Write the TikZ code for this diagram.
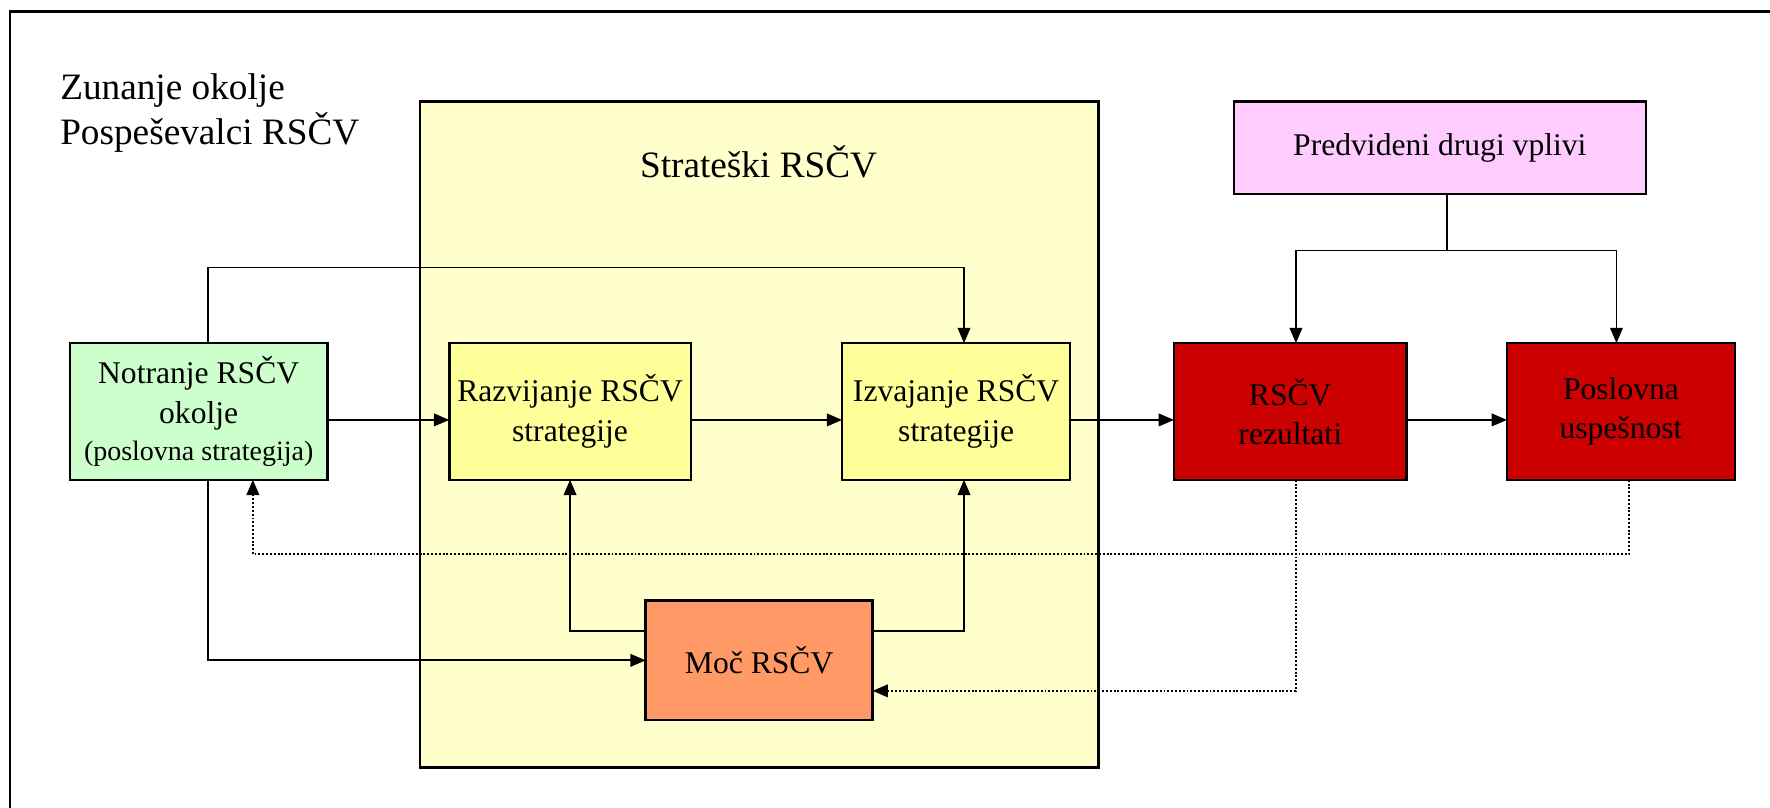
\documentclass[tikz,border=0pt]{standalone}
\usepackage{fontspec}
\setmainfont{Liberation Serif}
\usetikzlibrary{arrows.meta}
\definecolor{envgreen}{HTML}{CCFFCC}
\definecolor{stratbg}{HTML}{FFFFCC}
\definecolor{stepyellow}{HTML}{FFFF99}
\definecolor{otherpink}{HTML}{FFCCFF}
\definecolor{resultred}{HTML}{CC0000}
\definecolor{powerorange}{HTML}{FF9966}
\begin{document}
\begin{tikzpicture}[x=0.5pt,y=-0.5pt,
  box/.style={draw, line width=1.1pt, inner sep=0pt, outer sep=0pt, align=center,
    font=\fontsize{14}{17.5}\selectfont},
  conn/.style={line width=0.8pt, -{Triangle[length=6.8pt,width=5.6pt]}},
  plain/.style={line width=0.8pt},
  fb/.style={line width=0.85pt, dash pattern=on 0.85pt off 0.85pt,
    -{Triangle[length=6.8pt,width=5.6pt]}},
  biglabel/.style={font=\fontsize{16.5}{19}\selectfont, inner sep=0pt}]
\useasboundingbox (0,0) rectangle (1568,715);
\fill[white] (0,0) rectangle (1568,715);

% outer frame (open to the right and below)
\draw[line width=1.1pt] (9,730) -- (9,10) -- (1590,10);
\node[biglabel, anchor=base west] (envA) at (53,88) {Zunanje okolje};
\node[biglabel, anchor=base west] (envB) at (53,128) {Pospeševalci RSČV};

% strategic area
\node[box, fill=stratbg, minimum width=300.5pt, minimum height=295pt] (strat) at (672.5,385) {};
\node[biglabel, anchor=base] (stratlbl) at (672,157) {Strateški RSČV};

% boxes
\node[box, fill=envgreen, minimum width=114pt, minimum height=60.5pt] (green) at (176,364.5)
  {Notranje RSČV\\okolje\\[-1pt]{\fontsize{12.4}{15}\selectfont (poslovna strategija)}};
\node[box, fill=stepyellow, minimum width=107pt, minimum height=60.5pt] (raz) at (505,364.5)
  {Razvijanje RSČV\\strategije};
\node[box, fill=stepyellow, minimum width=101pt, minimum height=60.5pt] (izv) at (847,364.5)
  {Izvajanje RSČV\\strategije};
\node[box, fill=resultred, minimum width=103pt, minimum height=60.5pt] (rez) at (1143,364.5)
  {RSČV\\rezultati};
\node[box, fill=resultred, minimum width=101pt, minimum height=60.5pt] (pos) at (1436,364.5)
  {Poslovna\\uspešnost};
\node[box, fill=otherpink, minimum width=182.5pt, minimum height=41pt] (pink) at (1275.5,131)
  {Predvideni drugi vplivi};
\node[box, fill=powerorange, minimum width=100.5pt, minimum height=53pt] (moc) at (672.5,585)
  {Moč RSČV};

\coordinate (row) at (0,372);

% main chain
\draw[conn] (green.east |- row) -- (raz.west |- row);
\draw[conn] (raz.east |- row) -- (izv.west |- row);
\draw[conn] (izv.east |- row) -- (rez.west |- row);
\draw[conn] (rez.east |- row) -- (pos.west |- row);

% direct link from environment to implementation
\draw[conn] ([xshift=4pt]green.north) -- ++(0,-67) -| ([xshift=3.5pt]izv.north);

% other influences
\draw[plain] ([xshift=3pt]pink.south) -- ++(0,50) coordinate (split);
\draw[conn] (split) -| ([xshift=2.5pt]rez.north);
\draw[conn] (split) -| ([xshift=-2pt]pos.north);

% power
\draw[conn] ([xshift=4pt]green.south) |- (moc.west);
\draw[conn] ([yshift=13pt]moc.west) -| (raz.south);
\draw[conn] ([yshift=13pt]moc.east) -| ([xshift=3.5pt]izv.south);

% feedback loops
\draw[fb] ([xshift=3.5pt]pos.south) -- ++(0,66) -| ([xshift=24pt]green.south);
\draw[fb] ([xshift=2.5pt]rez.south) |- ([yshift=-13.5pt]moc.east);
\end{tikzpicture}
\end{document}
